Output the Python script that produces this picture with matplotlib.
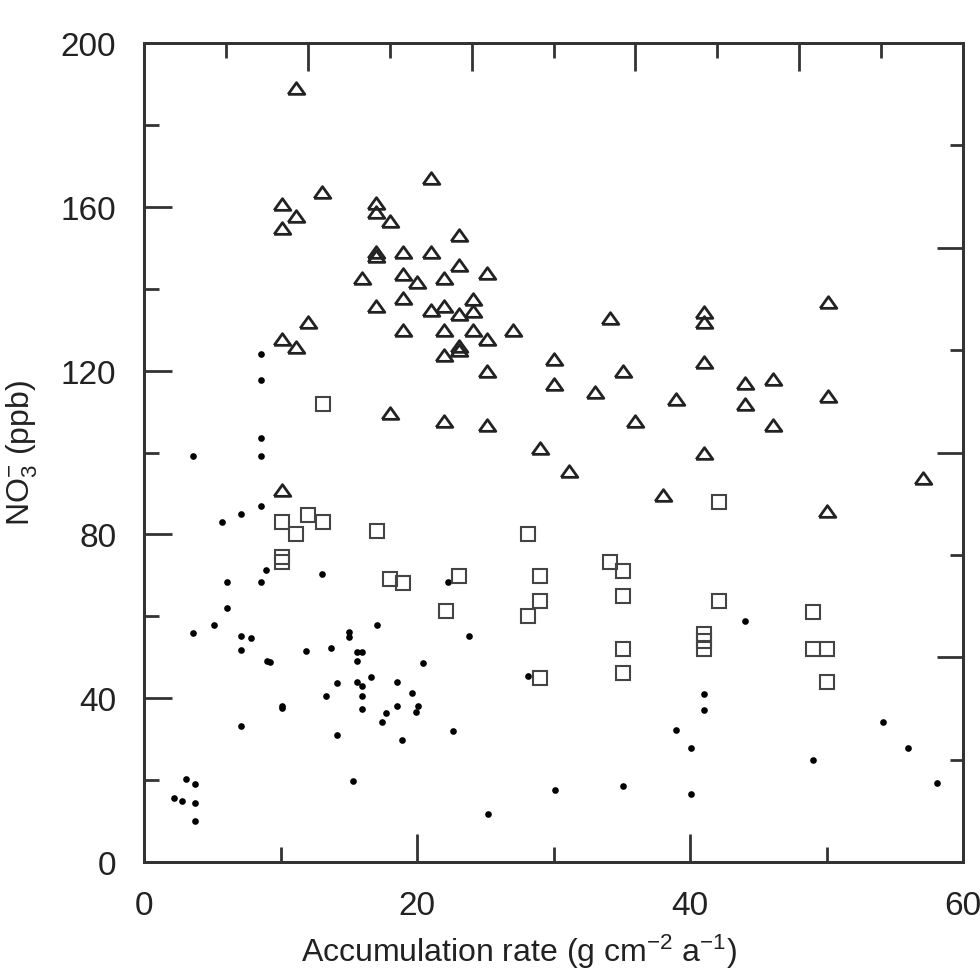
import matplotlib
matplotlib.use('Agg')
import matplotlib.pyplot as plt

plt.rcParams['font.family'] = ['Liberation Sans', 'DejaVu Sans']
plt.rcParams['mathtext.default'] = 'regular'

# triangles
tri_x = [11.1, 21, 13, 10.1, 17, 17, 11.1, 18, 10.1, 23.1, 17, 17, 19, 21, 23.1, 25.1,
         16, 19, 20, 22, 24.1, 17, 19, 21, 22, 23.1, 24.1, 12, 19, 22, 24.1, 27, 10.1,
         25.1, 11.1, 23.1, 23.1, 22, 30, 25.1, 30, 18, 22, 25.1, 29, 34.1, 41, 41, 50.1,
         35.1, 41, 33, 44, 46.1, 39, 44, 50.1, 36, 46.1, 41, 31.1, 38, 57.1, 50, 10.1]
tri_y = [189, 167, 163.6, 160.7, 161, 158.7, 157.7, 156.5, 154.8, 153, 148, 149, 149, 149,
         145.8, 143.8, 142.6, 143.6, 141.6, 142.6, 137.5, 135.8, 137.7, 134.8, 135.8, 133.8,
         134.6, 131.9, 129.9, 129.9, 129.9, 129.9, 127.7, 127.7, 125.8, 125, 126, 123.8,
         122.8, 120, 116.7, 109.6, 107.7, 106.7, 101, 132.8, 134.3, 131.9, 136.8, 120, 122,
         114.8, 117, 118, 113, 111.8, 113.8, 107.7, 106.7, 100, 95.5, 89.6, 93.8, 85.7, 90.8]

# squares
sq_x = [13.1, 10.1, 12, 13.1, 11.1, 17.1, 28.1, 10.1, 10.1, 18, 19, 23.1, 29, 29, 28.1,
        22.1, 29, 42.1, 34.1, 35.1, 35.1, 42.1, 49, 41, 41, 41, 35.1, 49, 50, 35.1, 50]
sq_y = [111.8, 83, 84.7, 83, 80.1, 80.8, 80.1, 74.5, 73.3, 69.1, 68.1, 69.8, 69.8, 63.7,
        60.1, 61.3, 44.9, 87.9, 73.3, 71.1, 65, 63.7, 61, 55.7, 54, 52, 52, 52, 52, 46.2, 44]

# dots
dot_x = [8.6, 8.6, 8.6, 8.6, 3.6, 8.6, 7.1, 5.7, 8.9, 8.6, 6.1, 13, 6.1, 3.6, 5.1, 7.1,
         7.8, 7.1, 9, 9.2, 10.1, 10.1, 7.1, 15, 15, 17.1, 11.9, 13.7, 15.6, 16, 15.6, 20.4,
         14.1, 15.6, 16, 16.6, 18.5, 13.3, 16, 19.6, 16, 18.5, 17.7, 17.4, 20.1, 19.9, 14.1,
         18.9, 22.6, 23.8, 22.3, 28.1, 15.3, 3.1, 3.7, 2.2, 2.8, 3.7, 3.7, 25.2, 30.1, 44,
         41, 41, 39, 40.1, 35.1, 40.1, 49, 54.1, 56, 58.1]
dot_y = [124, 117.7, 103.5, 99.1, 99.1, 86.9, 85, 83, 71.3, 68.4, 68.4, 70.3, 62, 55.9,
         57.9, 55.2, 54.7, 51.8, 49.1, 48.8, 38.1, 37.6, 33.2, 56.2, 55, 57.9, 51.5, 52.3,
         51.3, 51.3, 49.1, 48.6, 43.7, 44, 43, 45.2, 44, 40.5, 40.5, 41.3, 37.4, 38.1, 36.4,
         34.2, 38.1, 36.6, 31, 29.8, 32, 55.2, 68.4, 45.4, 19.8, 20.3, 19, 15.6, 14.9, 14.4,
         10, 11.7, 17.6, 58.9, 41, 37.1, 32.2, 27.8, 18.6, 16.6, 24.9, 34.2, 27.8, 19.3]

fig = plt.figure(figsize=(9.8, 9.7), dpi=100)
ax = fig.add_axes([0.147, 0.1103, 0.8357, 0.8443])

tri = [(-1, -0.7), (1, -0.7), (0, 0.7), (-1, -0.7)]
ax.plot(dot_x, dot_y, 'o', ms=4.8, color='black', mec='none')
ax.plot(sq_x, sq_y, 's', ms=10.5, mfc='none', mec='#444444', mew=1.5)
ax.plot(tri_x, tri_y, marker=tri, ls='none', ms=12, mfc='none', mec='#222222', mew=2)

ax.set_xlim(0, 60)
ax.set_ylim(0, 200)
ax.set_xticks([0, 20, 40, 60])
ax.set_xticks([10, 30, 50], minor=True)
ax.set_yticks([0, 40, 80, 120, 160, 200])
ax.set_yticks([20, 60, 100, 140, 180], minor=True)
ax.tick_params(which='both', direction='in', width=2, color='#333333',
               labelcolor='#222222', top=False, right=False)
ax.tick_params(which='major', length=20, pad=20, labelsize=24)
ax.tick_params(which='minor', length=11)

# top and right ticks on their own scales
axt = ax.twiny()
axt.set_xlim(0, 60)
axt.set_xticks([12, 24, 36, 48])
axt.set_xticks([6, 18, 30, 42, 54], minor=True)
axt.tick_params(which='both', direction='in', width=2, color='#333333', labeltop=False)
axt.tick_params(which='major', length=20)
axt.tick_params(which='minor', length=11)

axr = ax.twinx()
axr.set_ylim(0, 200)
axr.set_yticks([50, 100, 150])
axr.set_yticks([25, 75, 125, 175], minor=True)
axr.tick_params(which='both', direction='in', width=2, color='#333333', labelright=False)
axr.tick_params(which='major', length=19)
axr.tick_params(which='minor', length=9.5)

for a in (ax, axt, axr):
    for s in a.spines.values():
        s.set_linewidth(2)
        s.set_color('#333333')

ax.set_xlabel('Accumulation rate (g cm$^{-2}$ a$^{-1}$)', fontsize=23, color='#222222')
ax.set_ylabel('NO$_3^{-}$ (ppb)', fontsize=23, color='#222222')
ax.xaxis.set_label_coords(0.458, -0.0855)
ax.yaxis.set_label_coords(-0.127, 0.5)

fig.savefig('out.png', dpi=100)
